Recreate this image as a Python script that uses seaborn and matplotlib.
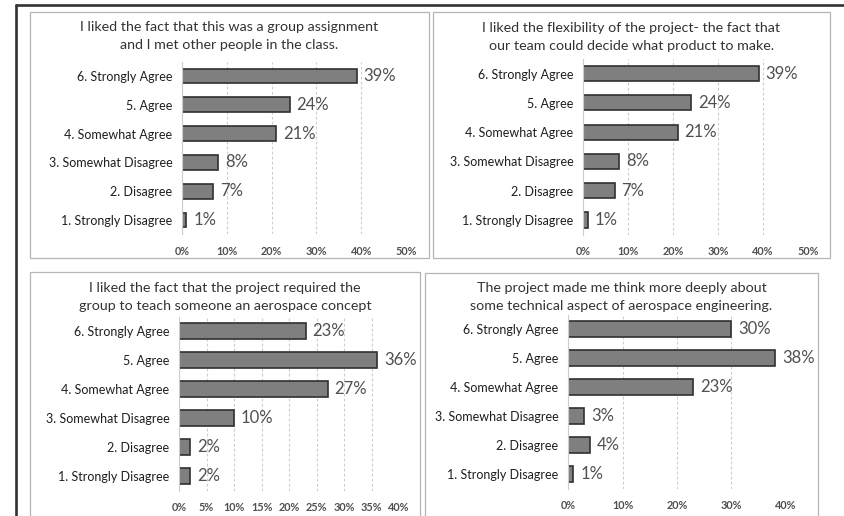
import matplotlib
matplotlib.use("Agg")
import matplotlib.pyplot as plt
import seaborn as sns
import pandas as pd
from matplotlib.patches import Rectangle
from matplotlib.lines import Line2D

# Survey response categories (top to bottom)
categories = [
    "6. Strongly Agree",
    "5. Agree",
    "4. Somewhat Agree",
    "3. Somewhat Disagree",
    "2. Disagree",
    "1. Strongly Disagree",
]

# Percent of respondents per category, one list per question
group_assignment = [39, 24, 21, 8, 7, 1]
flexibility = [39, 24, 21, 8, 7, 1]
teach_concept = [23, 36, 27, 10, 2, 2]
think_deeply = [30, 38, 23, 3, 4, 1]

titles = [
    "I liked the fact that this was a group assignment\nand I met other people in the class.",
    "I liked the flexibility of the project- the fact that\nour team could decide what product to make.",
    "I liked the fact that the project required the\ngroup to teach someone an aerospace concept",
    "The project made me think more deeply about\nsome technical aspect of aerospace engineering.",
]

x_ticks = [
    [0, 10, 20, 30, 40, 50],
    [0, 10, 20, 30, 40, 50],
    [0, 5, 10, 15, 20, 25, 30, 35, 40],
    [0, 10, 20, 30, 40],
]

sns.set_theme(style="white")
plt.rcParams["font.family"] = ["Lato", "DejaVu Sans"]

W, H = 844, 516
fig = plt.figure(figsize=(W / 100, H / 100), dpi=100)
fig.patch.set_facecolor("white")


def fx(px):
    return px / W


def fy(py):
    return 1 - py / H


# Outer frame (top and left edges)
fig.add_artist(Line2D([fx(16), fx(844)], [fy(5), fy(5)], color="#333333", lw=1.9,
                      transform=fig.transFigure))
fig.add_artist(Line2D([fx(16), fx(16)], [fy(5), fy(516)], color="#333333", lw=1.9,
                      transform=fig.transFigure))

# Panel boxes: (left, top, right, bottom) in pixels
boxes = [
    (30, 12, 429, 258),
    (433, 12, 830, 258),
    (30, 272, 420, 530),
    (425, 273, 818, 530),
]
for (l, t, r, b) in boxes:
    fig.add_artist(Rectangle((fx(l), fy(b)), fx(r - l), (b - t) / H,
                             transform=fig.transFigure, fill=False,
                             edgecolor="#b5b5b5", lw=0.9))

# Plot areas: (x at 0%, x at max tick, top, bottom) in pixels
areas = [
    (182, 406, 61.6, 234.4),
    (583, 808, 58.9, 234.7),
    (179, 399, 316.5, 490.5),
    (568, 786, 314.5, 488.5),
]
title_y = [36, 37, 297, 296.5]

series = [group_assignment, flexibility, teach_concept, think_deeply]

for i, (vals, title, ticks, area, box) in enumerate(zip(series, titles, x_ticks, areas, boxes)):
    x0, x1, top, bot = area
    ax = fig.add_axes([fx(x0), fy(bot), fx(x1 - x0), (bot - top) / H])
    df = pd.DataFrame({"category": categories, "percent": vals})
    sns.barplot(data=df, x="percent", y="category", order=categories, ax=ax,
                color="#7f7f7f", saturation=1, edgecolor="#303030",
                linewidth=1.2, width=0.52)
    ax.set_xlim(0, ticks[-1])
    ax.set_ylim(len(categories) - 0.5, -0.5)
    ax.set_xticks(ticks)
    ax.set_xticklabels([f"{t}%" for t in ticks], fontsize=7.8, color="#505050",
                       fontweight="bold")
    ax.tick_params(axis="x", length=0, pad=8)
    ax.tick_params(axis="y", length=0, pad=7, labelsize=9, labelcolor="#1e1e1e")
    ax.set_xlabel("")
    ax.set_ylabel("")
    ax.set_facecolor("none")
    ax.set_axisbelow(True)
    ax.xaxis.grid(True, linestyle=(0, (2.5, 2)), color="#cccccc", lw=0.8)
    ax.yaxis.grid(False)
    for s in ["top", "right", "bottom"]:
        ax.spines[s].set_visible(False)
    ax.spines["left"].set_color("#cccccc")
    ax.spines["left"].set_linewidth(0.8)
    for c in ax.containers:
        ax.bar_label(c, labels=[f"{v}%" for v in vals], padding=5,
                     fontsize=12, color="#505050")
    cx = (box[0] + box[2]) / 2
    fig.text(fx(cx), fy(title_y[i]), title, ha="center", va="center",
             fontsize=10.3, color="#333333", linespacing=1.6)

fig.savefig("out.png", dpi=100, facecolor="white")
